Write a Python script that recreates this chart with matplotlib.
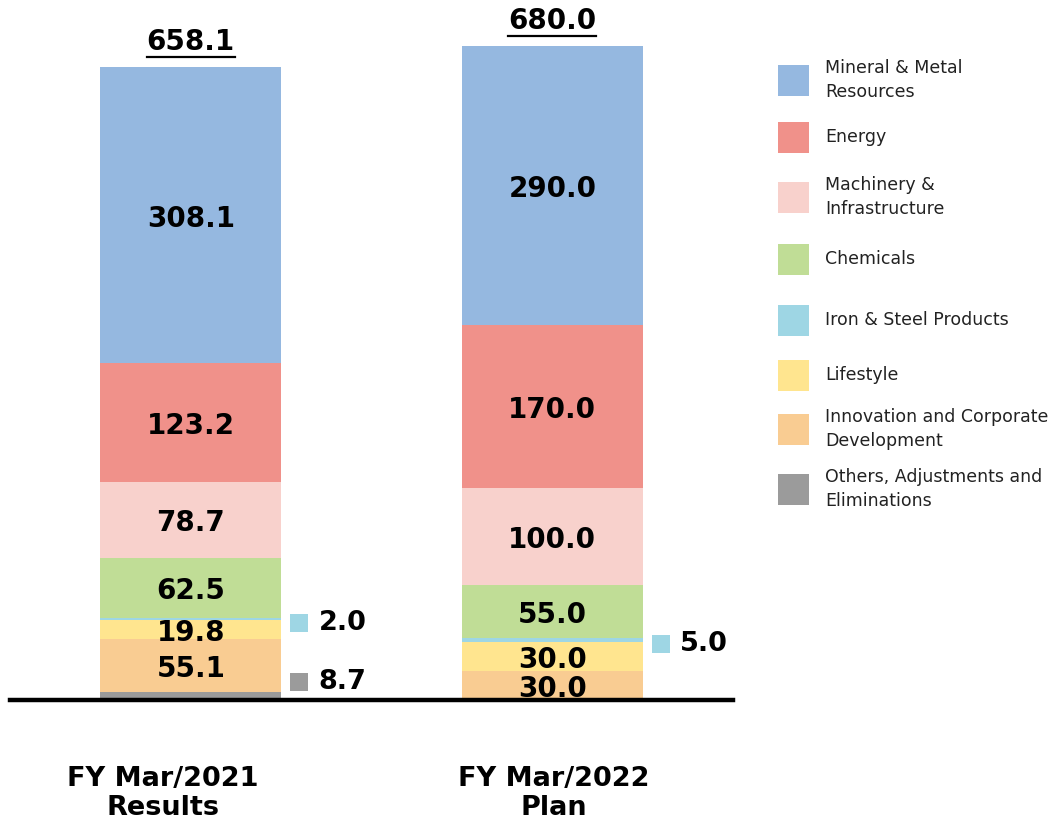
import numpy as np
import matplotlib
matplotlib.use("Agg")
import matplotlib.pyplot as plt
from matplotlib.patches import Rectangle
from matplotlib.lines import Line2D

# data (bottom to top)
periods = ["FY Mar/2021\nResults", "FY Mar/2022\nPlan"]
segments = [
    "Others, Adjustments and\nEliminations",
    "Innovation and Corporate\nDevelopment",
    "Lifestyle",
    "Iron & Steel Products",
    "Chemicals",
    "Machinery &\nInfrastructure",
    "Energy",
    "Mineral & Metal\nResources",
]
results_2021 = [8.7, 55.1, 19.8, 2.0, 62.5, 78.7, 123.2, 308.1]
plan_2022 = [0.0, 30.0, 30.0, 5.0, 55.0, 100.0, 170.0, 290.0]
totals = [658.1, 680.0]
colors = ["#9b9b9b", "#f9cc92", "#ffe58f", "#9ed6e4",
          "#c0dd96", "#f8d1cc", "#f0918a", "#95b8e0"]

# segments labelled beside the bar instead of inside: (bar, segment) -> y offset pts
outside = {(0, 3): 3, (0, 0): -10, (1, 3): 3}

W, H = 1056, 821
fig = plt.figure(figsize=(W / 100, H / 100), dpi=100)
ax = fig.add_axes([10 / W, 121 / H, 723 / W, 700 / H])
ax.set_xlim(-0.5, 1.5)
ax.set_ylim(0, 728)
ax.axis("off")

values = np.array([results_2021, plan_2022])
x = np.arange(len(periods))
bottoms = np.zeros(len(periods))
for j, seg in enumerate(segments):
    ax.bar(x, values[:, j], 0.5, bottom=bottoms, color=colors[j], linewidth=0)
    for i in range(len(periods)):
        v = values[i, j]
        if v <= 0:
            continue
        yc = bottoms[i] + v / 2
        if (i, j) in outside:
            dy = outside[(i, j)]
            shift = matplotlib.transforms.ScaledTranslation(0, -dy / 72, fig.dpi_scale_trans)
            ax.scatter([x[i] + 0.3], [yc], s=150, marker="s", color=colors[j],
                       linewidths=0, transform=ax.transData + shift, clip_on=False)
            ax.annotate(f"{v:.1f}", (x[i] + 0.3, yc), xytext=(14, -dy), textcoords="offset points",
                        ha="left", va="center", fontsize=19.5, fontweight="bold",
                        annotation_clip=False)
        else:
            ax.annotate(f"{v:.1f}", (x[i], yc), xytext=(0, -2.5), textcoords="offset points",
                        ha="center", va="center", fontsize=20, fontweight="bold")
    bottoms += values[:, j]

ax.axhline(0, color="black", lw=3.2, clip_on=False)

tot_texts = []
for i, t in enumerate(totals):
    tot_texts.append(ax.annotate(f"{t:.1f}", (x[i], t), xytext=(0, 8), textcoords="offset points",
                                 ha="center", va="bottom", fontsize=20, fontweight="bold"))

# period labels under the axis
label_x = [163, 554]
for px, lab in zip(label_x, periods):
    fig.text(px / W, 1 - 793 / H, lab, ha="center", va="center", fontsize=19.5,
             fontweight="bold", linespacing=1.15)

# legend, drawn by hand top to bottom
leg_y = [80, 137, 197, 259, 320, 375, 429, 489]
for k, yy in enumerate(leg_y):
    j = len(segments) - 1 - k
    fig.patches.append(Rectangle((778 / W, 1 - (yy + 16) / H), 31 / W, 31 / H,
                                 transform=fig.transFigure, color=colors[j], lw=0))
    fig.text(825 / W, 1 - yy / H, segments[j], ha="left", va="center", fontsize=12.5,
             color="#222222", linespacing=1.4)

# underline totals
fig.canvas.draw()
r = fig.canvas.get_renderer()
for t in tot_texts:
    bb = t.get_window_extent(r)
    yy = bb.y0 - 1
    fig.lines.append(Line2D([bb.x0 / W, bb.x1 / W], [yy / H, yy / H], transform=fig.transFigure,
                            color="black", lw=1.6))

fig.savefig("out.png", dpi=100)
